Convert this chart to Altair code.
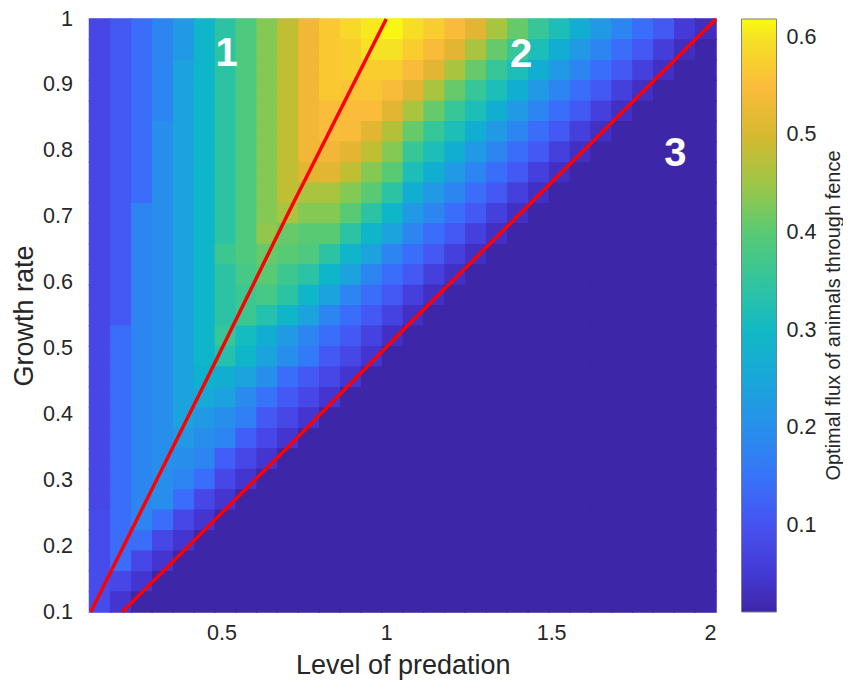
import altair as alt
import pandas as pd

# Grid cell edges (pcolor style): 30 columns in x, 29 rows in y
x_edges = [0.1, 0.1633, 0.2267, 0.29, 0.3533, 0.4167, 0.48, 0.5433, 0.6067, 0.67,
           0.7333, 0.7967, 0.86, 0.9233, 0.9867, 1.05, 1.1133, 1.1767, 1.24, 1.3033,
           1.3667, 1.43, 1.4933, 1.5567, 1.62, 1.6833, 1.7467, 1.81, 1.8733, 1.9367, 2.0]
y_edges = [0.1, 0.131, 0.1621, 0.1931, 0.2241, 0.2552, 0.2862, 0.3172, 0.3483, 0.3793,
           0.4103, 0.4414, 0.4724, 0.5034, 0.5345, 0.5655, 0.5966, 0.6276, 0.6586, 0.6897,
           0.7207, 0.7517, 0.7828, 0.8138, 0.8448, 0.8759, 0.9069, 0.9379, 0.969, 1.0]

# value of the flat region 3 (below the second red line)
FLOOR = 0.012

# Optimal flux, top row first; rows are completed with FLOOR
flux_rows = [
    [.08, .11, .14, .18, .22, .29, .34, .39, .43, .48, .53, .57, .59, .605, .615,
     .595, .575, .545, .51, .46, .41, .36, .32, .27, .22, .18, .14, .11, .055, .03],
    [.08, .11, .14, .18, .22, .29, .34, .39, .43, .48, .53, .57, .575, .60, .60,
     .575, .545, .51, .46, .41, .36, .32, .27, .22, .18, .14, .11, .06, .03],
    [.08, .11, .14, .18, .24, .29, .34, .39, .43, .48, .53, .57, .575, .575, .575,
     .545, .51, .46, .41, .36, .32, .27, .22, .18, .14, .11, .065, .035],
    [.08, .11, .14, .18, .24, .29, .34, .39, .43, .48, .53, .57, .56, .565, .545,
     .51, .46, .41, .36, .32, .27, .22, .18, .14, .11, .065, .035],
    [.08, .11, .14, .18, .24, .29, .34, .39, .43, .48, .53, .55, .55, .55, .51,
     .46, .41, .36, .32, .27, .22, .18, .14, .11, .065, .035],
    [.08, .11, .14, .20, .24, .29, .34, .39, .43, .48, .53, .55, .545, .51, .47,
     .41, .36, .32, .27, .22, .18, .14, .11, .065, .035],
    [.08, .11, .14, .20, .24, .29, .34, .39, .43, .48, .53, .53, .51, .48, .43,
     .36, .32, .27, .22, .18, .14, .11, .065, .035],
    [.08, .11, .14, .20, .24, .29, .34, .39, .43, .48, .51, .51, .48, .43, .40,
     .32, .27, .22, .18, .14, .11, .065, .035],
    [.08, .11, .14, .20, .24, .29, .34, .39, .43, .48, .46, .46, .43, .40, .34,
     .27, .22, .18, .14, .11, .065, .035],
    [.08, .11, .18, .20, .24, .29, .34, .39, .43, .46, .43, .43, .40, .34, .29,
     .22, .18, .14, .11, .065, .035],
    [.08, .11, .18, .20, .24, .29, .34, .39, .44, .41, .40, .40, .34, .29, .24,
     .18, .14, .11, .065, .035],
    [.08, .11, .18, .20, .24, .29, .37, .39, .41, .40, .39, .34, .29, .24, .18,
     .14, .11, .065, .035],
    [.08, .11, .18, .20, .24, .29, .34, .38, .40, .37, .34, .29, .24, .18, .14,
     .11, .065, .035],
    [.08, .11, .18, .20, .24, .29, .34, .37, .38, .34, .29, .24, .18, .14, .11,
     .065, .035],
    [.08, .11, .18, .20, .24, .29, .34, .37, .33, .29, .24, .18, .14, .11, .07,
     .035],
    [.08, .14, .18, .20, .24, .29, .36, .31, .27, .22, .18, .14, .11, .07, .035],
    [.08, .14, .18, .20, .24, .29, .33, .29, .24, .20, .16, .11, .08, .045],
    [.08, .14, .18, .20, .24, .28, .27, .24, .20, .14, .11, .08, .045],
    [.08, .14, .18, .20, .24, .26, .24, .19, .15, .11, .08, .045],
    [.08, .14, .18, .20, .24, .22, .20, .17, .11, .08, .045],
    [.08, .14, .18, .20, .22, .20, .18, .12, .08, .045],
    [.08, .14, .18, .20, .20, .18, .12, .08, .045],
    [.08, .14, .18, .20, .18, .14, .08, .045],
    [.08, .14, .18, .20, .14, .08, .045],
    [.09, .14, .18, .14, .08, .045],
    [.09, .14, .14, .08, .045],
    [.09, .14, .08, .045],
    [.09, .08, .045],
    [.09, .045],
]

# Red boundary lines
line1_x = [0.1036, 0.4527, 0.7045, 1.0]
line1_y = [0.1, 0.4502, 0.707, 1.0]
line2_x = [0.1996, 0.7055, 1.0575, 2.0]
line2_y = [0.1, 0.352, 0.531, 1.0]

# Region labels
region_labels = ["1", "2", "3"]
region_x = [0.516, 1.409, 1.877]
region_y = [0.947, 0.945, 0.795]

# Parula-like colour scale
color_stops = [0.012, 0.045, 0.075, 0.10, 0.13, 0.16, 0.19, 0.22, 0.25, 0.28, 0.31,
               0.34, 0.37, 0.40, 0.43, 0.46, 0.49, 0.52, 0.55, 0.58, 0.60, 0.619]
color_hex = ["#3E26A8", "#4435D0", "#4644E4", "#4652F0", "#3F66FC", "#337AF8", "#2A8AEE",
             "#2299E4", "#19A7DA", "#0DB2CE", "#14BCC0", "#2CC3A5", "#3DC790", "#58CA74",
             "#85C955", "#A9C43E", "#CBBB2D", "#EDB434", "#FBBC3B", "#FAD02D", "#F6E224",
             "#F9FB0E"]
legend_values = [0.1, 0.2, 0.3, 0.4, 0.5, 0.6]
colorbar_title = "Optimal flux of animals through fence"
x_ticks = [0.5, 1, 1.5, 2]
y_ticks = [0.1, 0.2, 0.3, 0.4, 0.5, 0.6, 0.7, 0.8, 0.9, 1.0]

records = []
n_cols = len(x_edges) - 1
n_rows = len(y_edges) - 1
for k, row in enumerate(flux_rows):
    vals = list(row) + [FLOOR] * (n_cols - len(row))
    for j, v in enumerate(vals):
        records.append({"x": x_edges[j], "x2": x_edges[j + 1],
                        "y": y_edges[n_rows - 1 - k], "y2": y_edges[n_rows - k],
                        "v": v, "edge_v": v})
cells = pd.DataFrame(records)

lines = pd.DataFrame(
    [{"x": a, "y": b, "line": "1"} for a, b in zip(line1_x, line1_y)]
    + [{"x": a, "y": b, "line": "2"} for a, b in zip(line2_x, line2_y)]
)
labels = pd.DataFrame({"x": region_x, "y": region_y, "t": region_labels})

FONT = "Liberation Sans"
TXT = "#262626"
W, H = 626.5, 593

x_scale = alt.Scale(domain=[0.1, 2.0], nice=False, zero=False)
y_scale = alt.Scale(domain=[0.1, 1.0], nice=False, zero=False)
x_axis = alt.Axis(values=x_ticks, format="~g", ticks=False, domain=False, grid=False,
                  labelPadding=10, titlePadding=9, labelFontSize=21.5, titleFontSize=27,
                  labelColor=TXT, titleColor=TXT, titleFontWeight="normal")
y_axis = alt.Axis(values=y_ticks, format="~g", ticks=False, domain=False, grid=False,
                  labelPadding=17, titlePadding=4, labelFontSize=21.5, titleFontSize=27,
                  labelColor=TXT, titleColor=TXT, titleFontWeight="normal")
X = alt.X("x:Q", scale=x_scale, axis=x_axis, title="Level of predation")
Y = alt.Y("y:Q", scale=y_scale, axis=y_axis, title="Growth rate")

color_scale = alt.Scale(domain=color_stops, range=color_hex, interpolate="rgb")
color_legend = alt.Legend(
    type="gradient", orient="right", direction="vertical",
    gradientLength=H, gradientThickness=35,
    gradientStrokeColor="#7f7f7f", gradientStrokeWidth=1,
    values=legend_values, format=".1f",
    labelFontSize=21.5, labelColor=TXT, labelOffset=10, labelFont=FONT,
    offset=18,
)

# outline layer underneath, coloured like each cell, hides anti-aliased seams
heat_under = alt.Chart(cells).mark_rect(filled=False, strokeWidth=1.5).encode(
    x=X, x2="x2:Q", y=Y, y2="y2:Q",
    stroke=alt.Stroke("edge_v:Q", scale=color_scale, legend=None),
)
heat = alt.Chart(cells).mark_rect().encode(
    x=X, x2="x2:Q", y=Y, y2="y2:Q",
    color=alt.Color("v:Q", scale=color_scale, title="", legend=color_legend),
)

red = alt.Chart(lines).mark_line(color="#FF0000", strokeWidth=3.5).encode(
    x=X, y=Y, detail="line:N"
)

txt = alt.Chart(labels).mark_text(
    font=FONT, fontSize=40, fontWeight="bold", color="white",
    align="center", baseline="middle"
).encode(x=X, y=Y, text="t:N")

cb_title = alt.Chart(pd.DataFrame({"t": [colorbar_title]})).mark_text(
    font=FONT, fontSize=20, color=TXT, angle=270, align="center", baseline="middle"
).encode(x=alt.value(W + 118), y=alt.value(H / 2), text="t:N")

chart = alt.layer(heat_under, heat, red, txt, cb_title).resolve_scale(
    color="independent", stroke="independent"
).properties(
    width=W, height=H,
    autosize=alt.AutoSizeParams(type="none"),
    padding={"left": 81.5, "top": 11, "right": 127, "bottom": 70},
).configure(font=FONT).configure_view(stroke="#b0b0b0", strokeWidth=0.5)

chart.save("out.html", embed_options={"renderer": "svg", "actions": False})
